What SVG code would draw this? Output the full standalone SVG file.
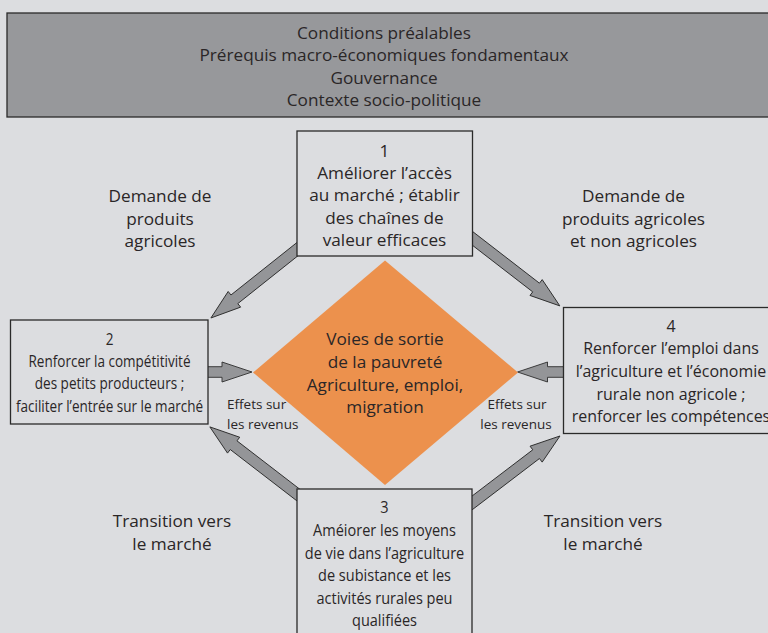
<svg xmlns="http://www.w3.org/2000/svg" width="768" height="633" viewBox="0 0 768 633">
<style>
text{font-family:"Open Sans","Liberation Sans",sans-serif;fill:#2a2627;text-anchor:middle}
.t{font-size:17.2px}
.c{font-size:16.5px}
.s{font-size:13.5px}
.box{fill:#dcdde0;stroke:#2a2a2a;stroke-width:1.3}
.arr{fill:#949598;stroke:#2e2e2e;stroke-width:0.9;stroke-linejoin:miter}
</style>
<rect x="0" y="0" width="768" height="633" fill="#dcdde0"/>
<g id="prerequis">
<rect x="7" y="13" width="770" height="104" fill="#97989b" stroke="#2a2a2a" stroke-width="1.3"/>
<text class="t" x="384" y="38.5">Conditions préalables</text>
<text class="t" x="384" y="61">Prérequis macro-économiques fondamentaux</text>
<text class="t" x="384" y="83.5">Gouvernance</text>
<text class="t" x="384" y="106">Contexte socio-politique</text>
</g>
<g id="connectors">
<path class="arr" transform="translate(297,249.5) rotate(141.5)" d="M-12,-5.5H80V-10L110,0L80,10V5.5H-12Z"/>
<path class="arr" transform="translate(472,238) rotate(37.7)" d="M-12,-5.5H81V-10L111,0L81,10V5.5H-12Z"/>
<path class="arr" transform="translate(297,494) rotate(-142.4)" d="M-12,-5.5H80V-10L110,0L80,10V5.5H-12Z"/>
<path class="arr" transform="translate(472,503) rotate(-37.3)" d="M-12,-5.5H80.6V-10L110.6,0L80.6,10V5.5H-12Z"/>
<path class="arr" transform="translate(208,372)" d="M-12,-5.3H14V-10L44,0L14,10V5.3H-12Z"/>
<path class="arr" transform="translate(563,372) rotate(180)" d="M-12,-5.3H15.5V-10L45.5,0L15.5,10V5.3H-12Z"/>
</g>
<g id="voies">
<polygon points="385,260.5 518,372.5 385,485 253,372.5" fill="#ec914d"/>
<text class="t" x="385" y="345">Voies de sortie</text>
<text class="t" x="385" y="368">de la pauvreté</text>
<text class="t" x="385" y="390.5">Agriculture, emploi,</text>
<text class="t" x="385" y="413">migration</text>
</g>
<g id="n1">
<rect class="box" x="297" y="131" width="175.5" height="125"/>
<text class="t" x="384.5" y="156.5">1</text>
<text class="t" x="384.5" y="178.5">Améliorer l’accès</text>
<text class="t" x="384.5" y="201">au marché ; établir</text>
<text class="t" x="384.5" y="223.5">des chaînes de</text>
<text class="t" x="384.5" y="246">valeur efficaces</text>
</g>
<g id="n2">
<rect class="box" x="10.5" y="320" width="197.5" height="104"/>
<g transform="translate(109.5,0) scale(0.82,1)">
<text class="c" x="0" y="345">2</text>
<text class="c" x="0" y="367">Renforcer la compétitivité</text>
<text class="c" x="0" y="389.5">des petits producteurs ;</text>
<text class="c" x="0" y="412">faciliter l’entrée sur le marché</text>
</g>
</g>
<g id="n4">
<rect class="box" x="563.5" y="307.5" width="220" height="126"/>
<g transform="translate(671,0) scale(0.93,1)">
<text class="t" x="0" y="332">4</text>
<text class="t" x="0" y="354.5">Renforcer l’emploi dans</text>
<text class="t" x="0" y="377.5">l’agriculture et l’économie</text>
<text class="t" x="0" y="400">rurale non agricole ;</text>
<text class="t" x="0" y="422.5">renforcer les compétences</text>
</g>
</g>
<g id="n3">
<rect class="box" x="297" y="489" width="175" height="160"/>
<g transform="translate(384.5,0) scale(0.88,1)">
<text class="c" x="0" y="513">3</text>
<text class="c" x="0" y="536">Améiorer les moyens</text>
<text class="c" x="0" y="559">de vie dans l’agriculture</text>
<text class="c" x="0" y="581.5">de subistance et les</text>
<text class="c" x="0" y="604">activités rurales peu</text>
<text class="c" x="0" y="626.5">qualifiées</text>
</g>
</g>
<g id="labels">
<text class="t" x="160" y="202">Demande de</text>
<text class="t" x="160" y="224.5">produits</text>
<text class="t" x="160" y="247">agricoles</text>
<text class="t" x="633.5" y="202">Demande de</text>
<text class="t" x="633.5" y="224.5">produits agricoles</text>
<text class="t" x="633.5" y="247">et non agricoles</text>
<text class="t" x="172" y="527">Transition vers</text>
<text class="t" x="172" y="550">le marché</text>
<text class="t" x="603" y="527">Transition vers</text>
<text class="t" x="603" y="550">le marché</text>
<text class="s" x="227" y="408.5" style="text-anchor:start">Effets sur</text>
<text class="s" x="227" y="428.5" style="text-anchor:start">les revenus</text>
<text class="s" x="517" y="408.5">Effets sur</text>
<text class="s" x="516" y="428.5">les revenus</text>
</g>
</svg>
